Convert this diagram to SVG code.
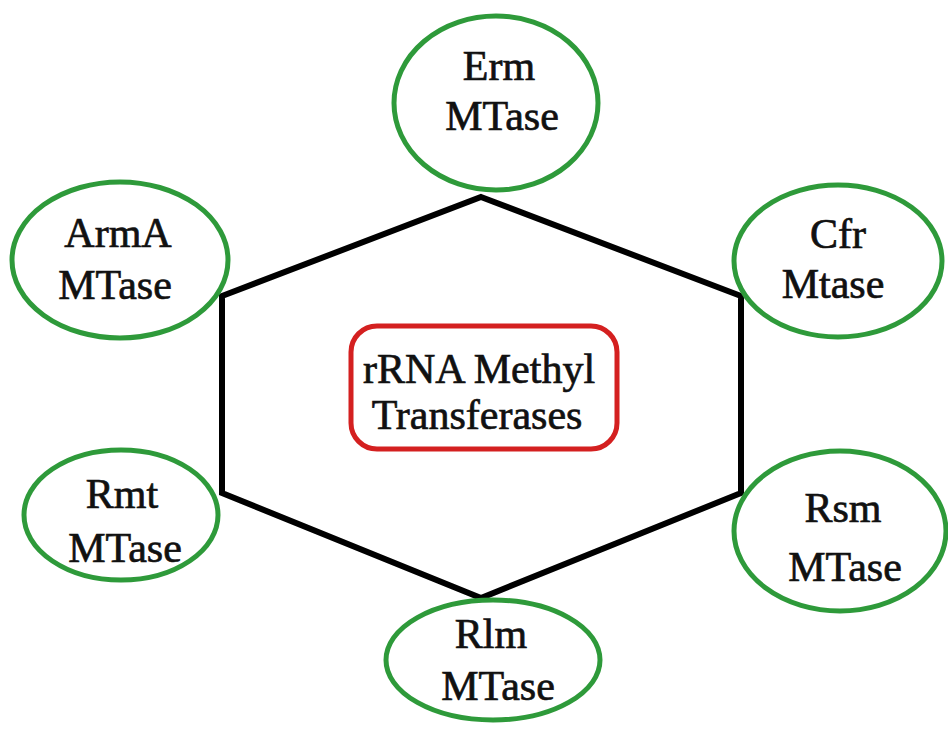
<svg xmlns="http://www.w3.org/2000/svg" width="948" height="729" viewBox="0 0 948 729">
  <style>
    .oval { fill: #ffffff; stroke: #2e9a3a; stroke-width: 5; }
    .hub { fill: #ffffff; stroke: #d42020; stroke-width: 5; }
    .hex { fill: none; stroke: #000000; stroke-width: 6; stroke-linejoin: miter; }
    text { font-family: "Liberation Serif", "Times New Roman", serif; font-size: 42px; fill: #111111; stroke: #111111; stroke-width: 0.7; text-anchor: middle; }
  </style>
  <rect width="948" height="729" fill="#ffffff"/>

  <!-- hexagonal ring linking the enzyme families -->
  <g id="connectors">
    <polygon class="hex" points="481,197 741,296 741,493 481,598 222,493 222,296"/>
  </g>

  <g id="center">
    <rect class="hub" x="351" y="326" width="266" height="123" rx="26" ry="26"/>
    <text x="479" y="383">rRNA Methyl</text>
    <text x="477" y="429">Transferases</text>
  </g>

  <g id="erm">
    <ellipse class="oval" cx="496" cy="103" rx="102" ry="87"/>
    <text x="499" y="80">Erm</text>
    <text x="502" y="130">MTase</text>
  </g>

  <g id="cfr">
    <ellipse class="oval" cx="838" cy="261" rx="104" ry="76"/>
    <text x="838" y="248">Cfr</text>
    <text x="833" y="298">Mtase</text>
  </g>

  <g id="arma">
    <ellipse class="oval" cx="120" cy="260" rx="108" ry="78"/>
    <text x="118" y="247">ArmA</text>
    <text x="115" y="299">MTase</text>
  </g>

  <g id="rmt">
    <ellipse class="oval" cx="121" cy="515" rx="97" ry="65"/>
    <text x="122" y="508">Rmt</text>
    <text x="125" y="562">MTase</text>
  </g>

  <g id="rsm">
    <ellipse class="oval" cx="840" cy="531" rx="106" ry="80"/>
    <text x="843" y="522">Rsm</text>
    <text x="845" y="581">MTase</text>
  </g>

  <g id="rlm">
    <ellipse class="oval" cx="493" cy="660" rx="107" ry="60"/>
    <text x="491" y="648">Rlm</text>
    <text x="498" y="700">MTase</text>
  </g>
</svg>
